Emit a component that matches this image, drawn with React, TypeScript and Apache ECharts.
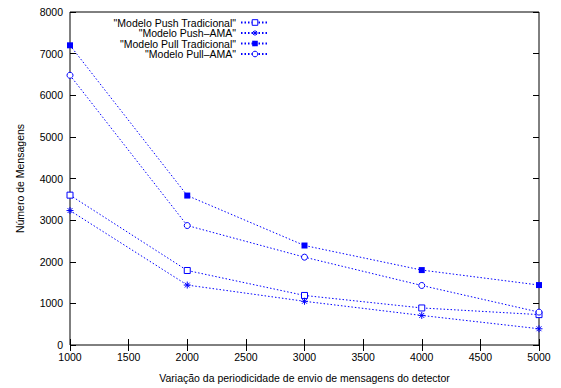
import React, { useEffect, useRef } from "react";
import * as echarts from "echarts";

const periods = [1000, 2000, 3000, 4000, 5000];
const pushTradicional = [3600, 1790, 1190, 890, 730];
const pushAMA = [3230, 1440, 1050, 710, 390];
const pullTradicional = [7200, 3590, 2390, 1800, 1440];
const pullAMA = [6480, 2870, 2110, 1430, 790];

const seriesNames = [
  '"Modelo Push Tradicional"',
  '"Modelo Push\u2013AMA"',
  '"Modelo Pull Tradicional"',
  '"Modelo Pull\u2013AMA"',
];

const asterisk = "path://M5 0L5 10M0 5L10 5M1.5 1.5L8.5 8.5M8.5 1.5L1.5 8.5";
const FONT = "Liberation Sans, Arial, Helvetica, sans-serif";
const BLUE = "#0000ff";
const FS = 10.5;

export default function App() {
  const ref = useRef<HTMLDivElement>(null);
  useEffect(() => {
    if (!ref.current) return;
    const chart = echarts.init(ref.current, undefined, { renderer: "svg" });
    const mk = (name: string, data: number[], symbol: string, size: number, itemStyle: any) => ({
      name,
      type: "line",
      data: periods.map((p, i) => [p, data[i]]),
      symbol,
      symbolSize: size,
      showSymbol: true,
      lineStyle: { color: BLUE, width: 1, type: [1.5, 2] },
      itemStyle,
      emphasis: { disabled: true },
      z: 3,
    });
    const styles = [
      { color: "#ffffff", borderColor: BLUE, borderWidth: 1 },
      { color: BLUE, borderColor: BLUE, borderWidth: 1 },
      { color: BLUE, borderColor: BLUE, borderWidth: 0 },
      { color: "#ffffff", borderColor: BLUE, borderWidth: 1 },
    ];
    const series = [
      mk(seriesNames[0], pushTradicional, "rect", 6, styles[0]),
      mk(seriesNames[1], pushAMA, asterisk, 7, styles[1]),
      mk(seriesNames[2], pullTradicional, "rect", 6, styles[2]),
      mk(seriesNames[3], pullAMA, "circle", 6, styles[3]),
    ];
    const legends = seriesNames.map((n, i) => ({
      data: [{ name: n, itemStyle: styles[i] }],
      orient: "vertical",
      right: 291,
      top: 17 + i * 10.5,
      padding: 0,
      align: "right",
      itemWidth: 28,
      itemHeight: 7,
      selectedMode: false,
      textStyle: { fontSize: FS, lineHeight: 10, color: "#000", fontFamily: FONT },
    }));
    const axisCommon = {
      axisLine: { show: false },
      splitLine: { show: false },
      axisTick: { inside: true, length: 6, lineStyle: { color: "#000" } },
    };
    const plain = (v: number) => String(v);
    chart.setOption({
      animation: false,
      backgroundColor: "#fff",
      grid: {
        left: 70,
        right: 22,
        top: 12,
        bottom: 39,
        show: true,
        borderColor: "#000",
        borderWidth: 1,
        backgroundColor: "transparent",
      },
      legend: legends,
      xAxis: [
        {
          type: "value",
          min: 1000,
          max: 5000,
          interval: 500,
          ...axisCommon,
          axisLabel: { fontSize: FS, color: "#000", fontFamily: FONT, margin: 6, formatter: plain },
          name: "Varia\u00e7\u00e3o da periodicidade de envio de mensagens do detector",
          nameLocation: "middle",
          nameGap: 27,
          nameTextStyle: { fontSize: FS, color: "#000", fontFamily: FONT },
        },
        {
          type: "value",
          position: "top",
          min: 1000,
          max: 5000,
          interval: 500,
          ...axisCommon,
          axisLabel: { show: false },
        },
      ],
      yAxis: [
        {
          type: "value",
          min: 0,
          max: 8000,
          interval: 1000,
          ...axisCommon,
          axisLabel: { fontSize: FS, color: "#000", fontFamily: FONT, margin: 7, formatter: plain },
          name: "N\u00famero de Mensagens",
          nameLocation: "middle",
          nameGap: 45,
          nameTextStyle: { fontSize: FS, color: "#000", fontFamily: FONT },
        },
        {
          type: "value",
          position: "right",
          min: 0,
          max: 8000,
          interval: 1000,
          ...axisCommon,
          axisLabel: { show: false },
        },
      ],
      series,
    });
    return () => chart.dispose();
  }, []);
  return <div ref={ref} style={{ width: 561, height: 388, position: "absolute", left: 0, top: 0 }} />;
}
